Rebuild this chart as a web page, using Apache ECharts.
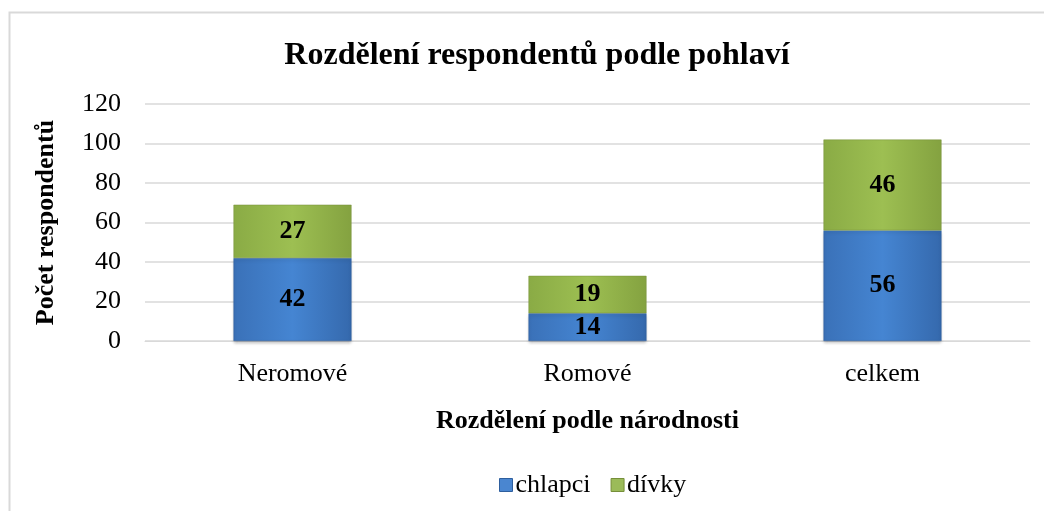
<!DOCTYPE html>
<html><head><meta charset="utf-8">
<script src="https://cdn.jsdelivr.net/npm/echarts@6/dist/echarts.min.js"></script>
<style>html,body{margin:0;padding:0;background:#fff}#c{width:1044px;height:511px}</style>
</head><body><div id="c"></div>
<script>
const categories = ['Neromové', 'Romové', 'celkem'];
const chlapci = [42, 14, 56];
const divky = [27, 19, 46];
const yTicks = [0, 20, 40, 60, 80, 100, 120];

const serif = '"Liberation Serif", "Times New Roman", serif';
const chart = echarts.init(document.getElementById('c'));
const blue = new echarts.graphic.LinearGradient(0, 0, 1, 0, [
  {offset: 0, color: '#3a71b8'}, {offset: 0.5, color: '#4585d2'}, {offset: 1, color: '#3569ad'}]);
const green = new echarts.graphic.LinearGradient(0, 0, 1, 0, [
  {offset: 0, color: '#8aab45'}, {offset: 0.5, color: '#9dbf52'}, {offset: 1, color: '#84a240'}]);
const lbl = {show: true, position: 'inside', color: '#000', fontFamily: serif, fontWeight: 'bold', fontSize: 26};
chart.setOption({
  animation: false,
  graphic: [{type: 'rect', shape: {x: 9.5, y: 12.5, width: 1100, height: 600},
    style: {fill: 'none', stroke: '#d9d9d9', lineWidth: 2}, silent: true}],
  title: {text: 'Rozdělení respondentů podle pohlaví', left: 532, textAlign: 'center', top: 35,
    textStyle: {fontFamily: serif, fontWeight: 'bold', fontSize: 32, color: '#000'}},
  legend: {top: 467, left: 494, itemWidth: 13, itemHeight: 13, itemGap: 20, icon: 'rect',
    textStyle: {fontFamily: serif, fontSize: 26, color: '#000', padding: [0, 0, 0, -2]},
    data: [{name: 'chlapci', itemStyle: {color: '#4a86d0', borderColor: '#2e5f9e', borderWidth: 1}},
           {name: 'dívky', itemStyle: {color: '#9bbb59', borderColor: '#768f3a', borderWidth: 1}}]},
  grid: {left: 145, right: 14, top: 104, bottom: 170},
  xAxis: {type: 'category', data: categories,
    name: 'Rozdělení podle národnosti', nameLocation: 'middle', nameGap: 67,
    nameTextStyle: {fontFamily: serif, fontWeight: 'bold', fontSize: 26, color: '#000'},
    axisLine: {lineStyle: {color: '#d9d9d9'}}, axisTick: {show: false},
    axisLabel: {fontFamily: serif, fontSize: 26, color: '#000', margin: 20}},
  yAxis: {type: 'value', min: yTicks[0], max: yTicks[yTicks.length - 1], interval: 20,
    name: 'Počet respondentů', nameLocation: 'middle', nameGap: 86,
    nameTextStyle: {fontFamily: serif, fontWeight: 'bold', fontSize: 26, color: '#000'},
    axisLine: {show: false}, axisTick: {show: false},
    axisLabel: {fontFamily: serif, fontSize: 26, color: '#000', margin: 24},
    splitLine: {lineStyle: {color: '#d9d9d9', width: 1.5}}},
  series: [
    {name: 'chlapci', type: 'bar', stack: 's', data: chlapci, barWidth: '40%',
      itemStyle: {color: blue, borderColor: '#2e5f9e', borderWidth: 0.5, shadowColor: 'rgba(0,0,0,0.25)', shadowBlur: 3, shadowOffsetY: 2}, label: lbl},
    {name: 'dívky', type: 'bar', stack: 's', data: divky, barWidth: '40%',
      itemStyle: {color: green, borderColor: '#768f3a', borderWidth: 0.5}, label: lbl}
  ]
});
</script></body></html>
